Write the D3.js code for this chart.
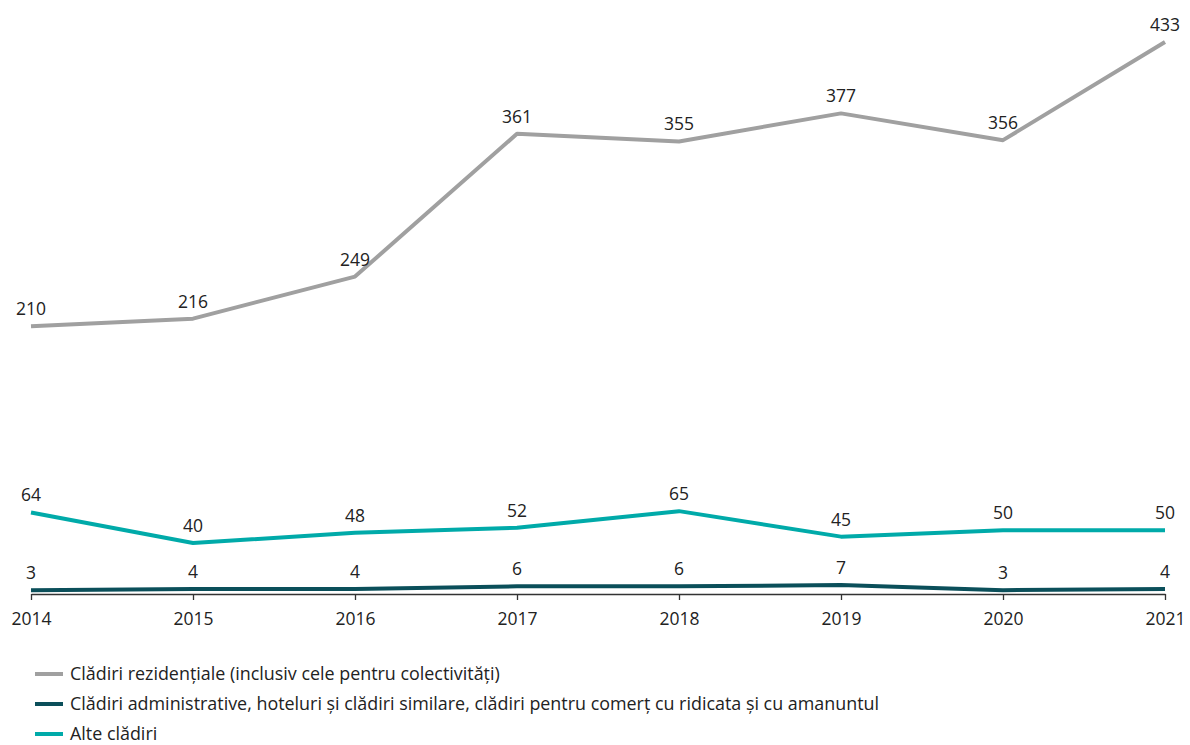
<!DOCTYPE html>
<html>
<head>
<meta charset="utf-8">
<script src="https://cdn.jsdelivr.net/npm/d3@7"></script>
<style>
  body { margin: 0; background: #fff; }
  text { font-family: "Open Sans", "Liberation Sans", Arial, sans-serif; fill: #222; }
</style>
</head>
<body>
<div id="chart"></div>
<script>
var years = ["2014", "2015", "2016", "2017", "2018", "2019", "2020", "2021"];
var rezidentiale = [210, 216, 249, 361, 355, 377, 356, 433];
var administrative = [3, 4, 4, 6, 6, 7, 3, 4];
var alte = [64, 40, 48, 52, 65, 45, 50, 50];
var seriesNames = [
  "Clădiri rezidențiale (inclusiv cele pentru colectivități)",
  "Clădiri administrative, hoteluri și clădiri similare, clădiri pentru comerț cu ridicata și cu amanuntul",
  "Alte clădiri"
];
var seriesColors = ["#a0a0a0", "#0b4f5a", "#00aaa9"];

var width = 1190;
var height = 745;

var svg = d3.select("#chart")
  .append("svg")
  .attr("width", width)
  .attr("height", height);

var x_scale = d3.scalePoint()
  .domain(years)
  .range([31, 1165]);

var y_scale = d3.scaleLinear()
  .domain([0, 433])
  .range([594, 42]);

var x_axis = d3.axisBottom(x_scale)
  .tickSize(6)
  .tickSizeOuter(0);

var gx = svg.append("g")
  .attr("transform", "translate(0," + 594 + ")")
  .call(x_axis);
gx.select(".domain").attr("stroke", "#333").attr("stroke-width", 1.3);
gx.selectAll(".tick line").attr("stroke", "#333").attr("stroke-width", 1.3);
gx.selectAll(".tick text")
  .attr("y", 19)
  .attr("font-size", 17.5)
  .attr("fill", "#222")
  .style("font-family", "'Open Sans', 'Liberation Sans', Arial, sans-serif");

var series = [rezidentiale, administrative, alte];

var line = d3.line()
  .x(function(d, i) { return x_scale(years[i]); })
  .y(function(d) { return y_scale(d); });

series.forEach(function(values, k) {
  svg.append("path")
    .datum(values)
    .attr("d", line)
    .attr("fill", "none")
    .attr("stroke", seriesColors[k])
    .attr("stroke-width", 4)
    .attr("stroke-linejoin", "round");

  svg.selectAll(".lbl" + k)
    .data(values)
    .enter()
    .append("text")
    .attr("class", "lbl" + k)
    .attr("x", function(d, i) { return x_scale(years[i]); })
    .attr("y", function(d) { return y_scale(d) - 11; })
    .attr("text-anchor", "middle")
    .attr("font-size", 17.5)
    .text(function(d) { return d; });
});

var legend = svg.append("g");
seriesNames.forEach(function(name, k) {
  var ly = 674 + k * 30;
  legend.append("line")
    .attr("x1", 35).attr("x2", 63)
    .attr("y1", ly).attr("y2", ly)
    .attr("stroke", seriesColors[k])
    .attr("stroke-width", 4);
  legend.append("text")
    .attr("x", 70)
    .attr("y", ly + 5.5)
    .attr("font-size", 17.9)
    .text(name);
});
</script>
</body>
</html>
